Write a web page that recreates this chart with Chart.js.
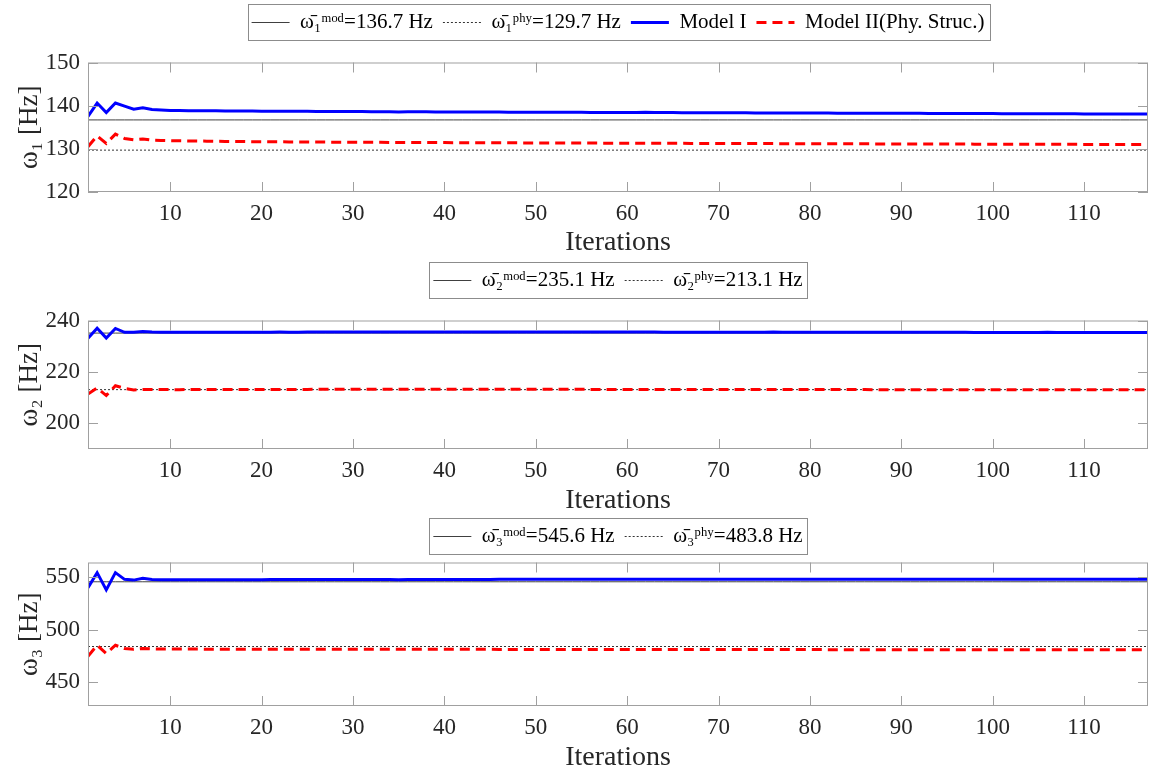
<!DOCTYPE html>
<html>
<head>
<meta charset="utf-8">
<script src="https://cdn.jsdelivr.net/npm/chart.js@4.4.1/dist/chart.umd.min.js"></script>
<style>
  html, body { margin: 0; padding: 0; background: #fff; }
  .panel { position: absolute; left: 0; width: 1150px; }
</style>
</head>
<body>
<div class="panel" style="top:0;height:257px"><canvas id="w1"></canvas></div>
<div class="panel" style="top:257px;height:258px"><canvas id="w2"></canvas></div>
<div class="panel" style="top:515px;height:257px"><canvas id="w3"></canvas></div>
<script>
// iterations 1..117
const iterations = Array.from({ length: 117 }, (_, i) => i + 1);
const xTicks = [10, 20, 30, 40, 50, 60, 70, 80, 90, 100, 110];

// reference frequencies (legend values)
const omegaMod = [136.7, 235.1, 545.6];
const omegaPhy = [129.7, 213.1, 483.8];

// mode 1
const model1W1 = [
  137.5, 140.6, 138.4, 140.6, 139.9, 139.2, 139.5, 139.1, 139.0, 138.9,
  138.88, 138.85, 138.85, 138.82, 138.8, 138.78, 138.76, 138.75, 138.74, 138.72,
  138.7, 138.7, 138.72, 138.7, 138.68, 138.66, 138.66, 138.65, 138.64, 138.63,
  138.62, 138.6, 138.6, 138.58, 138.55, 138.6, 138.58, 138.57, 138.56, 138.55,
  138.54, 138.54, 138.53, 138.52, 138.52, 138.51, 138.5, 138.5, 138.49, 138.48,
  138.48, 138.47, 138.46, 138.46, 138.45, 138.44, 138.44, 138.43, 138.42, 138.42,
  138.41, 138.45, 138.42, 138.4, 138.39, 138.38, 138.38, 138.37, 138.36, 138.36,
  138.35, 138.34, 138.34, 138.33, 138.32, 138.32, 138.31, 138.3, 138.3, 138.29,
  138.28, 138.28, 138.27, 138.26, 138.26, 138.25, 138.24, 138.24, 138.23, 138.22,
  138.22, 138.24, 138.21, 138.2, 138.19, 138.18, 138.18, 138.17, 138.16, 138.16,
  138.15, 138.14, 138.14, 138.13, 138.12, 138.12, 138.11, 138.1, 138.1, 138.09,
  138.08, 138.08, 138.07, 138.06, 138.06, 138.05, 138.05
];
const model2W1 = [
  130.5, 133.0, 131.25, 133.4, 132.4, 132.1, 132.3, 132.0, 131.95, 131.9,
  131.85, 131.82, 131.8, 131.78, 131.75, 131.72, 131.7, 131.68, 131.66, 131.65,
  131.63, 131.62, 131.6, 131.6, 131.58, 131.57, 131.56, 131.55, 131.54, 131.53,
  131.52, 131.51, 131.5, 131.49, 131.48, 131.47, 131.46, 131.46, 131.45, 131.44,
  131.43, 131.43, 131.42, 131.41, 131.4, 131.4, 131.39, 131.38, 131.38, 131.37,
  131.36, 131.36, 131.35, 131.34, 131.34, 131.33, 131.32, 131.32, 131.31, 131.3,
  131.3, 131.29, 131.28, 131.28, 131.27, 131.27, 131.26, 131.25, 131.25, 131.24,
  131.24, 131.23, 131.22, 131.22, 131.21, 131.21, 131.2, 131.2, 131.19, 131.18,
  131.18, 131.17, 131.17, 131.16, 131.16, 131.15, 131.15, 131.14, 131.14, 131.13,
  131.13, 131.12, 131.12, 131.11, 131.11, 131.1, 131.1, 131.09, 131.09, 131.08,
  131.08, 131.07, 131.07, 131.06, 131.06, 131.05, 131.05, 131.04, 131.04, 131.03,
  131.03, 131.02, 131.02, 131.01, 131.01, 131.0, 131.0
];

// mode 2
const model1W2 = [
  233.1, 237.0, 233.2, 236.9, 235.4, 235.4, 235.7, 235.5, 235.45, 235.4,
  235.4, 235.4, 235.4, 235.41, 235.41, 235.42, 235.42, 235.43, 235.44, 235.45,
  235.46, 235.5, 235.47, 235.47, 235.48, 235.48, 235.49, 235.49, 235.5, 235.5,
  235.5, 235.51, 235.51, 235.52, 235.55, 235.52, 235.52, 235.52, 235.52, 235.52,
  235.52, 235.52, 235.52, 235.52, 235.52, 235.52, 235.55, 235.52, 235.52, 235.51,
  235.51, 235.51, 235.51, 235.5, 235.5, 235.5, 235.5, 235.49, 235.49, 235.49,
  235.48, 235.55, 235.48, 235.47, 235.47, 235.47, 235.46, 235.46, 235.46, 235.45,
  235.45, 235.45, 235.44, 235.44, 235.44, 235.5, 235.43, 235.43, 235.43, 235.42,
  235.42, 235.42, 235.41, 235.41, 235.41, 235.4, 235.4, 235.4, 235.4, 235.39,
  235.39, 235.42, 235.39, 235.38, 235.38, 235.38, 235.38, 235.37, 235.37, 235.37,
  235.37, 235.36, 235.36, 235.36, 235.36, 235.4, 235.35, 235.35, 235.35, 235.35,
  235.35, 235.34, 235.34, 235.34, 235.34, 235.34, 235.33
];
const model2W2 = [
  211.4, 213.8, 210.8, 214.6, 213.6, 213.0, 213.2, 213.2, 213.15, 213.1,
  213.1, 213.12, 213.12, 213.14, 213.14, 213.15, 213.16, 213.16, 213.17, 213.18,
  213.18, 213.2, 213.19, 213.2, 213.2, 213.21, 213.21, 213.22, 213.22, 213.22,
  213.23, 213.23, 213.25, 213.23, 213.23, 213.24, 213.24, 213.24, 213.24, 213.24,
  213.24, 213.24, 213.24, 213.23, 213.23, 213.23, 213.23, 213.23, 213.22, 213.22,
  213.22, 213.22, 213.21, 213.21, 213.21, 213.2, 213.2, 213.2, 213.19, 213.19,
  213.19, 213.18, 213.18, 213.18, 213.17, 213.17, 213.17, 213.16, 213.16, 213.16,
  213.15, 213.15, 213.15, 213.14, 213.14, 213.14, 213.13, 213.13, 213.13, 213.12,
  213.12, 213.12, 213.12, 213.11, 213.11, 213.11, 213.1, 213.1, 213.1, 213.1,
  213.09, 213.09, 213.09, 213.09, 213.08, 213.08, 213.08, 213.08, 213.07, 213.07,
  213.07, 213.07, 213.07, 213.06, 213.06, 213.06, 213.06, 213.06, 213.05, 213.05,
  213.05, 213.05, 213.05, 213.04, 213.04, 213.04, 213.04
];

// mode 3
const model1W3 = [
  539.9, 554.3, 537.9, 554.3, 547.9, 547.2, 549.0, 547.8, 547.6, 547.5,
  547.5, 547.5, 547.5, 547.5, 547.55, 547.6, 547.6, 547.6, 547.65, 547.65,
  547.7, 547.75, 547.7, 547.7, 547.7, 547.75, 547.75, 547.75, 547.75, 547.8,
  547.8, 547.8, 547.8, 547.8, 547.5, 547.8, 547.8, 547.85, 547.85, 547.85,
  547.85, 547.85, 547.85, 547.85, 547.85, 547.9, 547.9, 547.9, 547.9, 547.9,
  547.9, 547.9, 547.9, 547.9, 547.9, 547.9, 547.9, 547.9, 547.9, 547.9,
  547.9, 548.1, 547.9, 547.9, 547.9, 547.9, 547.9, 547.9, 547.9, 547.9,
  547.9, 547.9, 547.9, 547.9, 547.9, 548.1, 547.9, 547.9, 547.9, 547.9,
  547.9, 547.9, 547.9, 547.9, 547.9, 547.9, 547.9, 547.9, 547.95, 547.95,
  547.95, 548.1, 547.95, 547.95, 547.95, 547.95, 547.95, 547.95, 547.95, 547.95,
  547.95, 547.95, 547.95, 547.95, 547.95, 548.1, 547.95, 547.95, 547.95, 547.95,
  547.95, 547.95, 547.95, 547.95, 547.95, 547.95, 547.95
];
const model2W3 = [
  474.5, 485.0, 477.1, 485.0, 481.9, 481.2, 482.0, 481.5, 481.4, 481.3,
  481.3, 481.3, 481.3, 481.28, 481.28, 481.26, 481.26, 481.25, 481.24, 481.24,
  481.23, 481.22, 481.22, 481.21, 481.2, 481.2, 481.19, 481.18, 481.18, 481.17,
  481.16, 481.16, 481.15, 481.14, 481.14, 481.13, 481.12, 481.12, 481.11, 481.1,
  481.1, 481.09, 481.08, 481.08, 481.07, 481.06, 481.06, 481.05, 481.04, 481.04,
  481.03, 481.02, 481.02, 481.01, 481.0, 481.0, 480.99, 480.98, 480.98, 480.97,
  480.96, 480.96, 480.95, 480.94, 480.94, 480.93, 480.92, 480.92, 480.91, 480.9,
  480.9, 480.89, 480.88, 480.88, 480.87, 480.86, 480.86, 480.85, 480.84, 480.84,
  480.83, 480.82, 480.82, 480.81, 480.8, 480.8, 480.79, 480.78, 480.78, 480.77,
  480.76, 480.76, 480.75, 480.74, 480.74, 480.73, 480.72, 480.72, 480.71, 480.7,
  480.7, 480.69, 480.68, 480.68, 480.67, 480.66, 480.66, 480.65, 480.64, 480.64,
  480.63, 480.62, 480.62, 480.61, 480.6, 480.6, 480.59
];

const yTicks = [[120, 130, 140, 150], [200, 220, 240], [450, 500, 550]];
const yRange = [[120, 150], [190, 240], [427, 564]];
const subs = ['₁', '₂', '₃'];

Chart.defaults.font.family = "'Liberation Serif', 'DejaVu Serif', serif";
Chart.defaults.color = '#262626';

// box + inward ticks like a matlab axes
const axesBox = {
  id: 'axesBox',
  afterDraw(chart) {
    const { ctx, chartArea: a, scales: { x, y } } = chart;
    ctx.save();
    ctx.strokeStyle = '#a0a0a0';
    ctx.lineWidth = 1;
    ctx.strokeRect(a.left + 0.5, a.top + 0.5, a.width - 1, a.height - 1);
    ctx.beginPath();
    x.ticks.forEach(t => {
      const px = Math.round(x.getPixelForValue(t.value)) + 0.5;
      ctx.moveTo(px, a.bottom); ctx.lineTo(px, a.bottom - 10);
      ctx.moveTo(px, a.top); ctx.lineTo(px, a.top + 10);
    });
    y.ticks.forEach(t => {
      const py = Math.round(y.getPixelForValue(t.value)) + 0.5;
      ctx.moveTo(a.left, py); ctx.lineTo(a.left + 10, py);
      ctx.moveTo(a.right, py); ctx.lineTo(a.right - 10, py);
    });
    ctx.stroke();
    ctx.restore();
  }
};

// frame around the legend entries
const legendFrame = {
  id: 'legendFrame',
  afterDraw(chart) {
    const boxes = chart.legend && chart.legend.legendHitBoxes;
    if (!boxes || !boxes.length) return;
    const l = Math.min(...boxes.map(b => b.left)) - 4;
    const r = Math.max(...boxes.map(b => b.left + b.width)) + 5;
    const t = Math.min(...boxes.map(b => b.top)) - 8;
    const b2 = Math.max(...boxes.map(b => b.top + b.height)) + 7;
    const ctx = chart.ctx;
    ctx.save();
    ctx.strokeStyle = '#8c8c8c';
    ctx.lineWidth = 1;
    ctx.strokeRect(Math.round(l) + 0.5, Math.round(t) + 0.5, Math.round(r - l), Math.round(b2 - t));
    ctx.restore();
  }
};

// legend line samples should carry the dataset's dash and width
function legendLabels(chart) {
  const items = Chart.defaults.plugins.legend.labels.generateLabels(chart);
  items.forEach(it => {
    const ds = chart.data.datasets[it.datasetIndex];
    it.lineDash = ds.borderDash || [];
    it.lineWidth = ds.borderWidth;
    it.strokeStyle = ds.borderColor;
  });
  return items;
}

function makePanel(id, k, m1, m2, o) {
  const sub = subs[k];
  const datasets = [
    {
      label: 'ω̄' + sub + 'ᵐᵒᵈ=' + omegaMod[k].toFixed(1) + ' Hz',
      data: iterations.map(() => omegaMod[k]),
      borderColor: 'rgba(0,0,0,0.75)', borderWidth: 1, order: 2
    },
    {
      label: 'ω̄' + sub + 'ᵖʰʸ=' + omegaPhy[k].toFixed(1) + ' Hz',
      data: iterations.map(() => omegaPhy[k]),
      borderColor: 'rgba(0,0,0,0.8)', borderWidth: 1, borderDash: [2, 2], order: 3
    },
    {
      label: 'Model I', data: m1,
      borderColor: 'rgb(0,0,255)', borderWidth: 3, order: 0
    },
    {
      label: 'Model II(Phy. Struc.)', data: m2,
      borderColor: 'rgb(255,0,0)', borderWidth: 3, borderDash: [10, 6], order: 1
    }
  ];

  return new Chart(document.getElementById(id), {
    type: 'line',
    data: { labels: iterations, datasets: datasets },
    plugins: [axesBox, legendFrame],
    options: {
      responsive: true,
      maintainAspectRatio: false,
      animation: false,
      layout: { padding: { top: o.top, left: 0, right: 2, bottom: 0 } },
      elements: { point: { radius: 0 }, line: { tension: 0 } },
      scales: {
        x: {
          type: 'linear', min: 1, max: 117,
          grid: { display: false, drawTicks: false },
          border: { display: false },
          afterBuildTicks: (ax) => { ax.ticks = xTicks.map(v => ({ value: v })); },
          afterFit: (ax) => { ax.height = o.xh; },
          ticks: { padding: 8, font: { size: 23 }, color: '#262626' },
          title: { display: true, text: 'Iterations', font: { size: 28, lineHeight: 1 }, color: '#262626', padding: { top: 0, bottom: 0 } }
        },
        y: {
          min: yRange[k][0], max: yRange[k][1],
          grid: { display: false, drawTicks: false },
          border: { display: false },
          afterBuildTicks: (ax) => { ax.ticks = yTicks[k].map(v => ({ value: v })); },
          afterFit: (ax) => { ax.width = 88; },
          ticks: { padding: 8, font: { size: 23 }, color: '#262626' },
          title: { display: true, text: 'ω' + sub + ' [Hz]', font: { size: 27 }, color: '#262626', padding: { top: 14, bottom: 0 } }
        }
      },
      plugins: {
        tooltip: { enabled: false },
        legend: {
          display: true,
          position: 'top',
          fullSize: false,
          labels: {
            usePointStyle: true,
            pointStyle: 'line',
            pointStyleWidth: 38,
            padding: 10,
            color: '#000',
            font: { size: 21 },
            generateLabels: legendLabels,
            filter: (item) => o.all || item.datasetIndex < 2,
            sort: (a, b) => a.datasetIndex - b.datasetIndex
          }
        },
        subtitle: {
          display: true, text: '', weight: 500,
          font: { size: 1, lineHeight: 1 },
          padding: { top: o.gap, bottom: 0 }
        }
      }
    }
  });
}

makePanel('w1', 0, model1W1, model2W1, { top: 2, gap: 18.5, xh: 65, all: true });
makePanel('w2', 1, model1W2, model2W2, { top: 3, gap: 18.5, xh: 66, all: false });
makePanel('w3', 2, model1W3, model2W3, { top: 1, gap: 4.5, xh: 66, all: false });
</script>
</body>
</html>
